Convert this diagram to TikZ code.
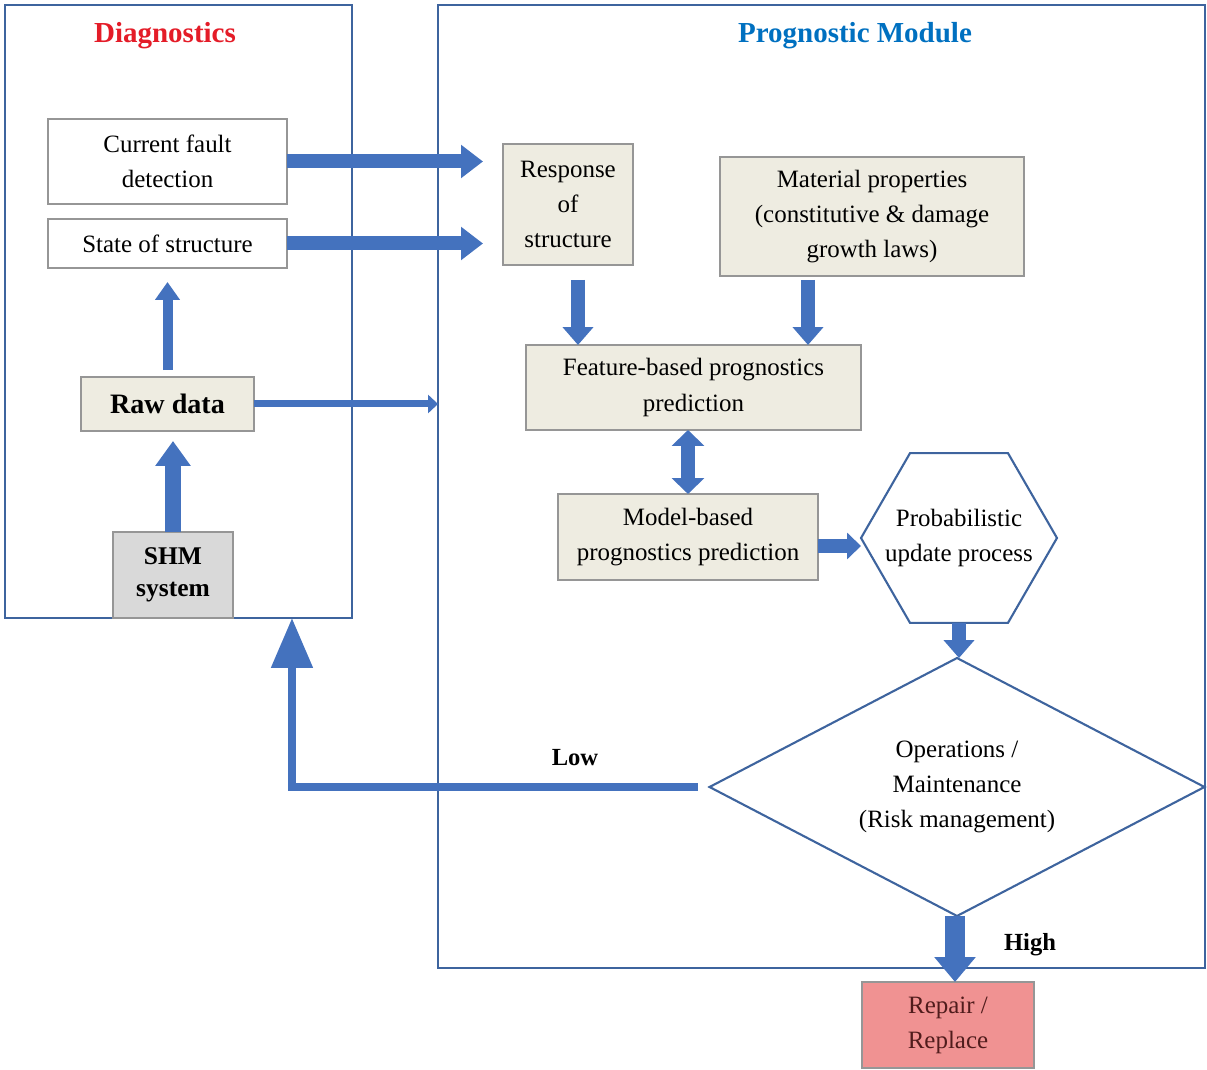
\documentclass[tikz,border=0pt]{standalone}
\usepackage{fontspec}
\setmainfont{Liberation Serif}
\usepackage{xcolor}
\usepackage{tikz}
\usetikzlibrary{arrows.meta, positioning, shapes.geometric}
\definecolor{frameBlue}{RGB}{62,100,158}
\definecolor{flowBlue}{RGB}{68,114,190}
\definecolor{diagRed}{RGB}{228,28,40}
\definecolor{progBlue}{RGB}{0,112,192}
\definecolor{boxBeige}{RGB}{238,236,225}
\definecolor{boxGrey}{RGB}{217,217,217}
\definecolor{boxLine}{RGB}{150,150,150}
\definecolor{repairRed}{RGB}{240,146,146}
\definecolor{repairText}{RGB}{80,28,28}

\begin{document}
\begin{tikzpicture}[x=0.02cm, y=-0.02cm,
    font=\fontsize{14.2pt}{20pt}\selectfont,
    frame/.style={draw=frameBlue, line width=1.4pt, outer sep=0pt},
    plain/.style={draw=boxLine, line width=0.8pt, fill=#1, align=center,
                  inner sep=2pt, outer sep=0pt},
    plain/.default=white,
    fat/.style={line width=#1, draw=flowBlue},
    headR/.style={-{Triangle[length=0.44cm, width=0.64cm]}},
    headD/.style={-{Triangle[length=0.36cm, width=0.6cm]}},
    title/.style={font=\fontsize{16.5pt}{19pt}\selectfont\bfseries},
    tag/.style={font=\fontsize{14pt}{17pt}\selectfont\bfseries}]
\useasboundingbox (0,0) rectangle (1207,1070);

% FRAMES
\node[frame, minimum width=6.94cm, minimum height=12.26cm] (diag) at (178.5,311.5) {};
\node[frame, minimum width=15.34cm, minimum height=19.26cm] (prog) at (821.5,486.5) {};
\node[title, color=diagRed] (diagt) at (165,36) {Diagnostics};
\node[title, color=progBlue] (progt) at (855,36) {Prognostic Module};

% DIAGNOSTICS
\node[plain, minimum width=4.78cm, minimum height=1.7cm] (cfd) at (167.5,161.5)
   {Current fault\\detection};
\node[plain, minimum width=4.78cm, minimum height=0.98cm] (sos) at (167.5,243.5)
   {State of structure};
\node[plain=boxBeige, minimum width=3.46cm, minimum height=1.08cm,
      font=\fontsize{16pt}{18pt}\selectfont\bfseries] (raw) at (167.5,404)
   {Raw data};
\node[plain=boxGrey, minimum width=2.4cm, minimum height=1.72cm,
      font=\fontsize{14.5pt}{18pt}\selectfont\bfseries] (shm) at (173,575)
   {SHM\\system};

% PROGNOSTICS
\node[plain=boxBeige, minimum width=2.6cm, minimum height=2.42cm] (resp) at (568,204.5)
   {Response\\of\\structure};
\node[plain=boxBeige, minimum width=6.08cm, minimum height=2.38cm] (mat) at (872,216.5)
   {Material properties\\(constitutive \& damage\\growth laws)};
\node[plain=boxBeige, minimum width=6.7cm, minimum height=1.7cm] (feat) at (693.5,387.5)
   {Feature-based prognostics\\prediction};
\node[plain=boxBeige, minimum width=5.2cm, minimum height=1.72cm] (model) at (688,537)
   {Model-based\\prognostics prediction};
\node[regular polygon, regular polygon sides=6, draw=frameBlue, line width=1.2pt,
      minimum size=3.92cm, inner sep=0pt, outer sep=0pt] (prob) at (959,538) {};
\node[align=center] (probtxt) at (prob.center) {Probabilistic\\update process};
\node[diamond, draw=frameBlue, line width=1.2pt, minimum width=9.9cm,
      minimum height=5.16cm, inner sep=0pt, outer sep=0pt] (ops) at (957,787) {};
\node[align=center] (opstxt) at (ops.center) {Operations /\\Maintenance\\(Risk management)};
\node[plain=repairRed, text=repairText, minimum width=3.44cm, minimum height=1.72cm]
   (repair) at (948,1025) {Repair /\\Replace};

% Flow arrows
\draw[fat=0.28cm, headR, shorten >=0.4cm] (cfd.east) -- (cfd.east -| resp.west);
\draw[fat=0.28cm, headR, shorten >=0.4cm] (sos.east) -- (sos.east -| resp.west);
\draw[fat=0.14cm, -{Triangle[length=0.2cm, width=0.36cm]}] (raw.east) -- (raw.east -| prog.west);
\draw[fat=0.2cm, -{Triangle[length=0.36cm, width=0.48cm]}, shorten <=0.14cm, shorten >=0.28cm]
   (raw.north) -- (sos.south -| raw.north);
\draw[fat=0.32cm, -{Triangle[length=0.5cm, width=0.68cm]}, shorten >=0.2cm]
   (shm.north) -- (shm.north |- raw.south);
\draw[fat=0.28cm, headD, shorten <=0.3cm] ([xshift=0.2cm]resp.south) -- ([xshift=0.2cm]resp.south |- feat.north);
\draw[fat=0.28cm, headD, shorten <=0.08cm] ([xshift=-1.28cm]mat.south) -- ([xshift=-1.28cm]mat.south |- feat.north);
\draw[fat=0.28cm, {Triangle[length=0.32cm, width=0.64cm]}-{Triangle[length=0.32cm, width=0.64cm]}]
   ([xshift=-0.11cm]feat.south) -- ([xshift=-0.11cm]feat.south |- model.north);
\draw[fat=0.28cm, -{Triangle[length=0.28cm, width=0.52cm]}]
   ([yshift=-0.18cm]model.east) -- ([yshift=-0.18cm]model.east -| prob.west);
\draw[fat=0.28cm, headD] (prob.south) -- (prob.south |- ops.north);
\draw[fat=0.4cm, -{Triangle[length=0.5cm, width=0.8cm]}] ([xshift=-0.04cm]ops.south) -- ([xshift=-0.04cm]ops.south |- repair.north);
\draw[fat=0.16cm, -{Triangle[length=1.0cm, width=0.8cm]}, shorten <=0.24cm]
   (ops.west) -| ([xshift=-1.2cm]diag.south east);

% Branch labels
\node[tag] (low) at (575,758) {Low};
\node[tag] (high) at (1030,945) {High};

\end{tikzpicture}
\end{document}
